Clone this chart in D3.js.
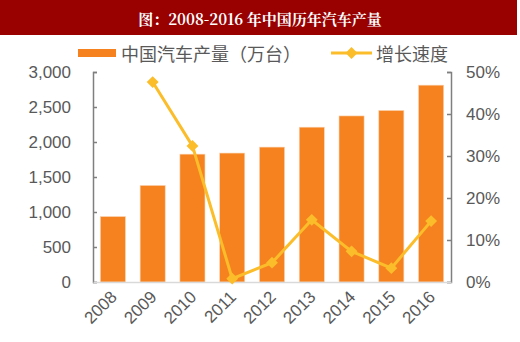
<!DOCTYPE html>
<html>
<head>
<meta charset="utf-8">
<script src="https://cdn.jsdelivr.net/npm/d3@7"></script>
<style>
  body { margin: 0; background: #fff; }
  svg { display: block; }
</style>
</head>
<body>
<div id="chart"></div>
<script>
// data
const years = ["2008", "2009", "2010", "2011", "2012", "2013", "2014", "2015", "2016"];
const output = [934.5, 1379.1, 1826.5, 1841.9, 1927.2, 2211.7, 2372.3, 2450.3, 2811.9];
const growth = [null, 47.6, 32.4, 0.8, 4.6, 14.8, 7.3, 3.3, 14.5];
const leftTicks = [0, 500, 1000, 1500, 2000, 2500, 3000];
const rightTicks = [0, 10, 20, 30, 40, 50];

const width = 520, height = 342;
const margin = {top: 72, right: 69, bottom: 60, left: 93};

const barColor = "#f5821f";
const lineColor = "#fbbd2a";
const textColor = "#595959";

const svg = d3.select("#chart").append("svg")
    .attr("width", width)
    .attr("height", height);

// title bar
svg.append("rect")
    .attr("x", 0).attr("y", 0)
    .attr("width", 517).attr("height", 35)
    .attr("fill", "#990000");
svg.append("text")
    .attr("x", 260).attr("y", 18)
    .attr("text-anchor", "middle")
    .attr("dominant-baseline", "central")
    .attr("fill", "#fff")
    .attr("font-family", "'Noto Serif CJK SC', 'DejaVu Serif', 'Noto Sans CJK SC', serif")
    .attr("font-weight", "bold")
    .attr("font-size", 15)
    .text("图：2008-2016 年中国历年汽车产量");

const x = d3.scaleBand()
    .domain(years)
    .range([margin.left, width - margin.right])
    .paddingInner(0.37)
    .paddingOuter(0.185);

const yL = d3.scaleLinear().domain([0, 3000]).range([height - margin.bottom, margin.top]);
const yR = d3.scaleLinear().domain([0, 50]).range([height - margin.bottom, margin.top]);

// bars
svg.append("g").selectAll("rect")
    .data(years)
    .join("rect")
    .attr("x", d => x(d))
    .attr("width", x.bandwidth())
    .attr("y", (d, i) => yL(output[i]))
    .attr("height", (d, i) => yL(0) - yL(output[i]))
    .attr("fill", barColor)
    .attr("stroke", "#fbd3b0")
    .attr("stroke-width", 0.6);

// axes
const axisFont = "'Liberation Sans', Arial, sans-serif";

const leftAxis = svg.append("g")
    .attr("transform", "translate(" + margin.left + ",0)")
    .call(d3.axisLeft(yL).tickValues(leftTicks).tickSize(-4).tickPadding(22).tickFormat(d3.format(",")));
const rightAxis = svg.append("g")
    .attr("transform", "translate(" + (width - margin.right) + ",0)")
    .call(d3.axisRight(yR).tickValues(rightTicks).tickSize(-4).tickPadding(15).tickFormat(d => d + "%"));

[leftAxis, rightAxis].forEach(g => {
    g.select(".domain").attr("stroke", "#7f7f7f").attr("stroke-width", 1.5);
    g.selectAll(".tick line").attr("stroke", "#7f7f7f").attr("stroke-width", 1.5);
    g.selectAll("text")
        .attr("fill", textColor)
        .attr("font-family", axisFont)
        .attr("font-size", 17);
});

const bottomAxis = svg.append("g")
    .attr("transform", "translate(0," + (height - margin.bottom) + ")")
    .call(d3.axisBottom(x).tickSize(0).tickPadding(0));
bottomAxis.select(".domain").attr("stroke", "#d9d9d9").attr("stroke-width", 1.5);
bottomAxis.selectAll("text")
    .attr("fill", textColor)
    .attr("font-family", axisFont)
    .attr("font-size", 17)
    .attr("text-anchor", "end")
    .attr("dy", null)
    .attr("y", 0)
    .attr("transform", "translate(5,16) rotate(-45)");

// growth line
const pts = years.map((d, i) => ({year: d, v: growth[i]})).filter(d => d.v !== null);
const line = d3.line()
    .x(d => x(d.year) + x.bandwidth() / 2)
    .y(d => yR(d.v));

svg.append("path")
    .datum(pts)
    .attr("d", line)
    .attr("fill", "none")
    .attr("stroke", lineColor)
    .attr("stroke-width", 3);

const diamond = d3.symbol().type(d3.symbolDiamond2).size(90);
svg.append("g").selectAll("path")
    .data(pts)
    .join("path")
    .attr("d", diamond)
    .attr("transform", d => "translate(" + (x(d.year) + x.bandwidth() / 2) + "," + yR(d.v) + ")")
    .attr("fill", lineColor);

// legend
const legend = svg.append("g").attr("font-family", "'Noto Sans CJK SC', sans-serif").attr("font-size", 18).attr("fill", textColor);
legend.append("rect")
    .attr("x", 78).attr("y", 49)
    .attr("width", 38).attr("height", 8)
    .attr("fill", barColor);
legend.append("text")
    .attr("x", 121).attr("y", 53)
    .attr("dominant-baseline", "central")
    .text("中国汽车产量（万台）");
legend.append("line")
    .attr("x1", 331).attr("x2", 372)
    .attr("y1", 53).attr("y2", 53)
    .attr("stroke", lineColor)
    .attr("stroke-width", 3);
legend.append("path")
    .attr("d", diamond)
    .attr("transform", "translate(351.5,53)")
    .attr("fill", lineColor);
legend.append("text")
    .attr("x", 376).attr("y", 53)
    .attr("dominant-baseline", "central")
    .text("增长速度");
</script>
</body>
</html>
